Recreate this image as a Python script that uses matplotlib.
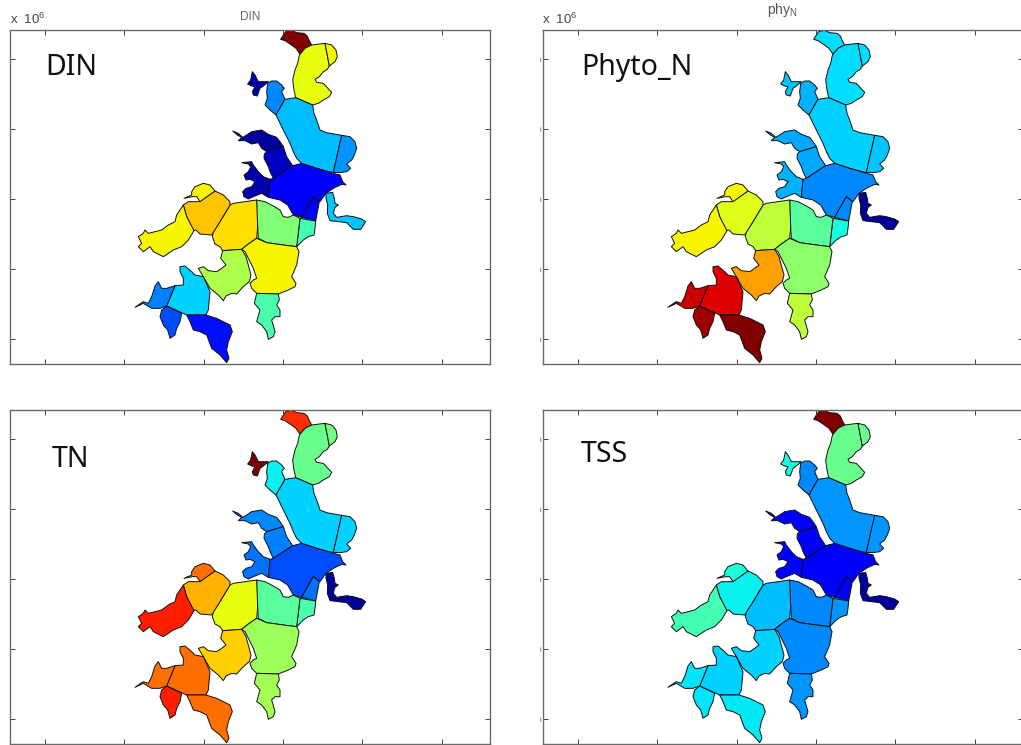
import matplotlib
matplotlib.use("Agg")
import matplotlib.pyplot as plt
from matplotlib.collections import PolyCollection

plt.rcParams["font.family"] = "Liberation Sans"
plt.rcParams["mathtext.default"] = "regular"

# ---------------- DATA ----------------
# region outlines (map units, y grows southward)
A = [(482,58),(490,45),(497,35),(515,31),(530,38),(552,40),(562,48),(567,60),(575,75),(555,85),(540,103),(528,85),(510,72),(495,62)]
B = [(575,75),(598,72),(615,70),(628,138),(622,148),(610,155),(598,170),(585,178),(590,187),(610,190),(622,203),(635,217),(628,230),(610,240),(595,250),(578,255),(555,245),(527,233),(522,210),(518,180),(525,150),(533,130),(537,110),(540,103),(555,85)]
C = [(615,70),(635,75),(648,90),(652,110),(645,125),(628,138)]
D = [(383,192),(392,180),(397,155),(405,165),(415,185),(445,185),(430,198),(420,205),(412,228),(400,225),(397,215),(405,200),(395,198)]
E = [(443,190),(455,183),(470,183),(485,195),(493,205),(485,215),(495,238),(468,285),(450,270),(435,255),(442,235),(440,215)]
F = [(495,238),(527,233),(555,245),(578,255),(582,280),(590,300),(600,330),(620,338),(665,346),(640,457),(625,455),(590,445),(545,430),(530,415),(520,395),(510,370),(500,350),(485,320),(478,305),(468,285)]
G = [(665,346),(690,350),(705,365),(710,385),(703,405),(695,420),(680,432),(692,445),(680,455),(660,458),(640,457)]
H = [(338,333),(355,340),(368,352),(380,345),(395,335),(425,330),(445,343),(470,352),(480,365),(490,380),(440,395),(425,385),(415,368),(395,372),(375,362),(355,362),(365,352),(352,345)]
I = [(490,380),(500,410),(518,437),(460,475),(450,455),(445,440),(432,415),(433,402),(440,395)]
J = [(365,428),(395,425),(400,435),(415,455),(430,470),(450,478),(445,532),(425,520),(400,530),(385,537),(372,530),(368,515),(378,505),(395,500),(405,485),(390,478),(378,480),(372,465),(385,455),(392,440),(385,432)]
K = [(460,475),(518,437),(545,430),(590,445),(625,455),(640,460),(660,465),(668,485),(678,495),(665,493),(640,505),(618,520),(600,545),(580,530),(545,592),(520,585),(510,568),(503,555),(480,540),(445,532),(450,478)]
L = [(580,530),(598,545),(587,603),(545,592)]
M = [(618,520),(638,517),(643,535),(645,550),(655,555),(645,562),(640,580),(650,592),(680,587),(700,590),(725,597),(737,605),(722,628),(700,628),(680,608),(655,605),(630,602),(622,580),(623,555),(618,535)]
N = [(540,595),(587,603),(585,625),(582,645),(565,650),(550,660),(530,680)]
O = [(410,540),(435,545),(460,558),(480,570),(490,590),(505,592),(520,585),(540,595),(530,680),(490,675),(440,668),(415,655),(413,620),(410,580)]
P = [(340,550),(410,540),(413,620),(410,655),(385,672),(365,688),(308,692),(300,680),(285,672),(277,650),(280,635),(300,605),(315,580),(330,555)]
Q = [(190,555),(205,545),(237,545),(285,513),(310,525),(330,545),(330,555),(315,580),(300,605),(275,645),(240,642),(228,630),(220,632),(200,590)]
R = [(215,515),(225,500),(250,490),(270,495),(285,513),(240,545),(230,530),(218,530),(192,535),(215,525)]
S = [(190,555),(200,590),(222,632),(205,660),(185,680),(160,690),(130,710),(110,700),(100,695),(90,680),(70,695),(55,680),(65,670),(55,650),(70,640),(75,630),(85,640),(125,630),(145,615),(165,605),(170,585)]
T = [(308,692),(365,688),(378,710),(393,765),(388,785),(370,800),(350,822),(335,820),(318,828),(310,842),(295,825),(270,805),(250,770),(235,745),(250,740),(265,752),(290,755),(305,745),(318,735),(302,715)]
U = [(365,688),(385,672),(410,655),(440,668),(490,675),(530,680),(537,695),(530,735),(515,770),(528,790),(525,800),(505,810),(475,822),(410,820),(395,805),(390,790),(400,780),(410,775),(400,745),(385,715),(375,695)]
V = [(410,820),(475,822),(478,840),(470,855),(480,870),(480,890),(465,890),(455,900),(465,935),(460,950),(445,958),(440,935),(425,915),(410,905),(420,870),(403,850)]
W = [(180,740),(195,738),(215,755),(225,765),(250,770),(270,815),(265,870),(258,885),(200,885),(140,858),(165,797),(190,795),(190,775),(180,755)]
X = [(45,862),(62,850),(70,845),(85,850),(95,830),(105,798),(115,785),(125,805),(140,805),(165,797),(140,858),(120,865),(95,865),(70,850)]
Y = [(140,858),(185,880),(180,905),(170,925),(165,945),(150,955),(143,930),(130,915),(120,890),(125,870)]
Z = [(200,885),(258,885),(290,895),(330,915),(337,935),(325,965),(320,990),(327,1015),(320,1028),(300,1005),(275,985),(260,945),(240,935),(220,930),(210,905)]
regions = [A,B,C,D,E,F,G,H,I,J,K,L,M,N,O,P,Q,R,S,T,U,V,W,X,Y,Z]

# relative concentration per region, same order as regions
din = [1.00,.63,.65,.04,.26,.31,.27,.03,.06,.04,.11,.12,.32,.43,.505,.675,.70,.65,.65,.56,.65,.44,.33,.25,.20,.14]
phy = [.34,.34,.34,.32,.30,.33,.32,.29,.29,.30,.26,.26,.02,.375,.46,.58,.62,.65,.65,.74,.52,.58,.916,.93,.97,1.00]
tn  = [.86,.48,.49,1.00,.36,.33,.33,.26,.25,.24,.20,.24,.02,.44,.46,.63,.72,.79,.875,.69,.54,.55,.79,.79,.875,.79]
tss = [1.00,.48,.48,.38,.26,.27,.27,.12,.11,.11,.11,.12,.03,.27,.26,.31,.36,.385,.43,.33,.26,.27,.33,.35,.35,.355]

x_ticks = [-225,13,251,489,727,965]
y_ticks = [117,327,537,747,957]

W_PX, H_PX = 1021, 745

# ---------------- PLOT ----------------
fig = plt.figure(figsize=(W_PX/100, H_PX/100), dpi=100)

panels = [
    (10, 30, din, "DIN", 45, 75, False),
    (543, 30, phy, "Phyto_N", 581, 75, True),
    (10, 410, tn, "TN", 52, 467, False),
    (543, 410, tss, "TSS", 581, 462, True),
]

for left, top, vals, name, tx, ty, marks in panels:
    ax = fig.add_axes([left/W_PX, 1-(top+334)/H_PX, 480/W_PX, 334/H_PX])
    pc = PolyCollection(regions, array=vals, cmap="jet", edgecolors="#101010", linewidths=0.7)
    pc.set_clim(0, 1)
    ax.add_collection(pc)
    ax.set_xlim(-330, 1110)
    ax.set_ylim(1032, 30)
    ax.set_xticks(x_ticks)
    ax.set_yticks(y_ticks)
    ax.tick_params(direction="in", length=3.5, width=0.7, color="#404040",
                   top=True, right=True, labelbottom=False, labelleft=marks, pad=1,
                   labelsize=5, labelcolor="#555555")
    if marks:
        ax.set_yticklabels(["i"]*len(y_ticks))
    for s in ax.spines.values():
        s.set_color("#6a6a6a")
        s.set_linewidth(1.0)
    fig.text(tx/W_PX, 1-ty/H_PX, name, family="Noto Sans", fontsize=20.5, color="#111111",
             ha="left", va="baseline")

for x0 in [10, 542]:
    fig.text(x0/W_PX, 1-24/H_PX, "x  10$^{6}$", fontsize=9.5, color="#444444", ha="left", va="baseline")
fig.text(250/W_PX, 1-20/H_PX, "DIN", fontsize=8.5, color="#666666", ha="center", va="baseline")
fig.text(782/W_PX, 1-14/H_PX, "phy$_{N}$", fontsize=10, color="#555555", ha="center", va="baseline")

plt.savefig("out.png", dpi=100)
